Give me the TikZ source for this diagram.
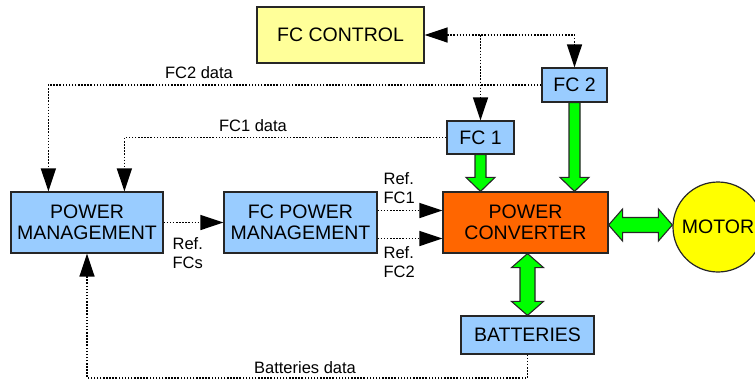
\documentclass[tikz,border=0pt]{standalone}
\usepackage{fontspec}
\setmainfont{Liberation Sans}
\usetikzlibrary{calc,arrows.meta}
\definecolor{ink}{gray}{0.15}
\definecolor{boxblue}{RGB}{153,204,255}
\definecolor{ctrlyellow}{RGB}{255,255,153}
\definecolor{convorange}{RGB}{255,102,0}
\definecolor{motoryellow}{RGB}{255,255,0}
\definecolor{powergreen}{RGB}{0,255,0}

\begin{document}
\begin{tikzpicture}[x=1pt, y=-1pt, line width=1.2pt,
   >={Triangle[length=23pt,width=15pt]},
   blk/.style={rectangle, draw=ink, fill=boxblue, inner sep=0pt, align=center,
               font=\fontsize{19.5}{21}\selectfont},
   sig/.style={draw=black, line width=1.5pt, dash pattern=on 1.5pt off 1.6pt},
   fat/.style={draw=ink, fill=powergreen, line width=1.1pt, line join=miter},
   lbl/.style={inner sep=0pt, align=left, font=\fontsize{16.5}{18.5}\selectfont}]
  \useasboundingbox (0,0) rectangle (755,381);
  % blocks
  \node[blk, fill=ctrlyellow, minimum width=167pt, minimum height=56pt](ctrl) at (340.5,35){FC CONTROL};
  \node[blk, minimum width=65pt, minimum height=34pt](fc2) at (574.5,85){FC 2};
  \node[blk, minimum width=67pt, minimum height=33pt](fc1) at (480.5,137.5){FC 1};
  \node[blk, minimum width=152pt, minimum height=61pt](pm) at (87,222.5){POWER\\MANAGEMENT};
  \node[blk, minimum width=153pt, minimum height=61pt](fcpm) at (300.5,222.5){FC POWER\\MANAGEMENT};
  \node[blk, fill=convorange, minimum width=165pt, minimum height=61pt](pc) at (525.5,222.5){POWER\\CONVERTER};
  \node[blk, minimum width=133pt, minimum height=38pt](batt) at (527.5,335){BATTERIES};
  \node[blk, circle, fill=motoryellow, minimum size=90pt](motor) at (718,227){MOTOR};
  % helper points
  \coordinate (pmin2) at ($(pm.north west)+(38,0)$);
  \coordinate (pmin1) at ($(pm.north west)+(114,0)$);
  \coordinate (ref1) at ($(fcpm.east)+(0,-12)$);
  \coordinate (ref2) at ($(fcpm.east)+(0,16)$);
  \coordinate (bus) at (0,378);
  % data lines
  \draw[sig,<->] (ctrl.east) -- (fc2.north |- ctrl.east) -- (fc2.north);
  \draw[sig,->] (fc1.north |- ctrl.east) -- (fc1.north);
  \draw[sig,->] (fc2.west) -| (pmin2);
  \draw[sig,->] (fc1.west) -| (pmin1);
  \draw[sig,->] (pm.east) -- (fcpm.west);
  \draw[sig,->] (ref1) -- (ref1 -| pc.west);
  \draw[sig,->] (ref2) -- (ref2 -| pc.west);
  \draw[sig,->] (batt.south) -- (batt.south |- bus) -- (pm.south |- bus) -- (pm.south);
  \node[lbl](lfc2) at (199,73){FC2 data};
  \node[lbl](lfc1) at (253,126){FC1 data};
  \node[lbl, anchor=north west](lfcs) at (172,237){Ref.\\FCs};
  \node[lbl, anchor=south west](lref1) at (383,204){Ref.\\FC1};
  \node[lbl, anchor=north west](lref2) at (383,246){Ref.\\FC2};
  \node[lbl](lbat) at (305,368){Batteries data};
  % power flow
  \draw[fat] let \p1=(fc1.south), \p2=(pc.north) in
    (\x1-5.5pt,\y1) -- (\x1-5.5pt,\y2+14pt) -- (\x1-14.5pt,\y2+14pt) -- (\x1,\y2)
    -- (\x1+14.5pt,\y2+14pt) -- (\x1+5.5pt,\y2+14pt) -- (\x1+5.5pt,\y1) -- cycle;
  \draw[fat] let \p1=(fc2.south), \p2=(pc.north) in
    (\x1-5.5pt,\y1) -- (\x1-5.5pt,\y2+14pt) -- (\x1-14.5pt,\y2+14pt) -- (\x1,\y2)
    -- (\x1+14.5pt,\y2+14pt) -- (\x1+5.5pt,\y2+14pt) -- (\x1+5.5pt,\y1) -- cycle;
  \draw[fat] let \p1=(pc.east), \p2=(motor.west) in
    (\x1,\y2+2pt) -- (\x1+14pt,\y2+18pt) -- (\x1+14pt,\y2+9.5pt) -- (\x2-14pt,\y2+9.5pt)
    -- (\x2-14pt,\y2+18pt) -- (\x2,\y2+2pt) -- (\x2-14pt,\y2-14pt) -- (\x2-14pt,\y2-5.5pt)
    -- (\x1+14pt,\y2-5.5pt) -- (\x1+14pt,\y2-14pt) -- cycle;
  \draw[fat] let \p1=(batt.north), \p2=(pc.south) in
    (\x1,\y2) -- (\x1+16pt,\y2-14pt) -- (\x1+7.5pt,\y2-14pt) -- (\x1+7.5pt,\y1+14pt)
    -- (\x1+16pt,\y1+14pt) -- (\x1,\y1) -- (\x1-16pt,\y1+14pt) -- (\x1-7.5pt,\y1+14pt)
    -- (\x1-7.5pt,\y2-14pt) -- (\x1-16pt,\y2-14pt) -- cycle;
\end{tikzpicture}
\end{document}
